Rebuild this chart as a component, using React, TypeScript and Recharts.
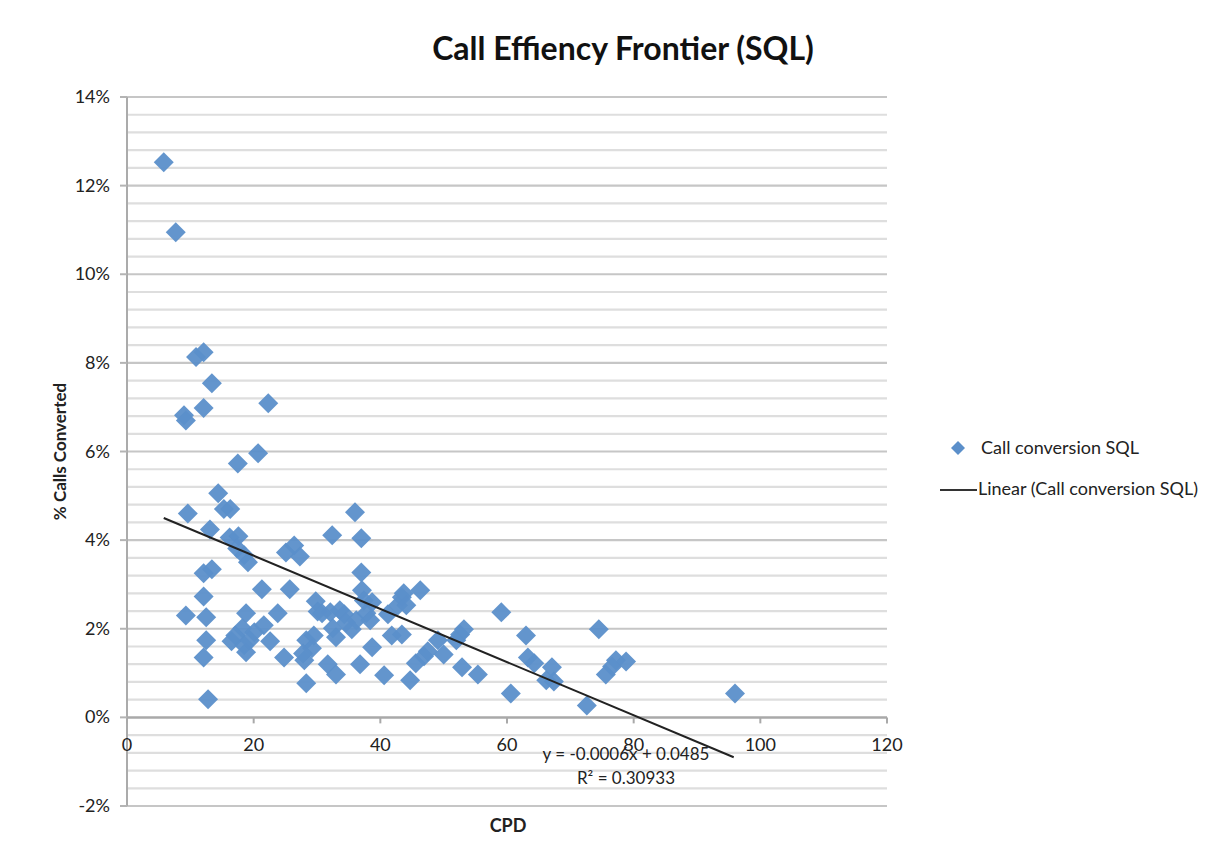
import React from 'react';
import { ScatterChart, Scatter, XAxis, YAxis, CartesianGrid } from 'recharts';

// CPD per rep (x) and % of calls converted to SQL (y, in percent)
const cpdValues = [
  5.8, 7.7, 10.9, 12.1, 13.4, 12.1, 9.0, 9.3, 22.3, 20.7, 17.5, 9.6, 14.4, 15.3, 16.3, 13.1,
  16.2, 17.6, 17.4, 18.5, 19.1, 13.4, 12.1, 12.1, 9.3, 12.5, 12.5, 12.1, 12.8, 18.8, 18.2, 17.1,
  16.5, 18.5, 18.8, 20.1, 21.3, 21.6, 22.6, 23.8, 24.8, 25.7, 25.1, 26.4, 27.3, 32.4, 36.0, 37.0,
  37.0, 29.8, 30.1, 28.3, 28.0, 28.3, 29.2, 29.5, 32.1, 32.5, 33.0, 31.7, 33.0, 33.6, 34.3, 34.6,
  35.5, 36.2, 36.8, 37.1, 37.4, 37.8, 38.4, 38.7, 38.7, 40.6, 41.2, 41.8, 42.8, 43.4, 43.7, 44.1,
  43.4, 44.7, 46.3, 45.6, 46.9, 47.5, 49.1, 50.0, 52.0, 52.6, 53.2, 52.9, 55.4, 59.1, 60.6, 63.0,
  63.3, 64.3, 66.2, 67.1, 67.4, 72.6, 74.5, 75.6, 76.6, 77.2, 78.8, 96.0, 19.4, 27.8, 30.8,
];
const conversionPct = [
  12.53, 10.95, 8.13, 8.24, 7.54, 6.98, 6.82, 6.70, 7.09, 5.96, 5.73, 4.60, 5.06, 4.70, 4.70, 4.24,
  4.06, 4.09, 3.81, 3.66, 3.50, 3.34, 3.25, 2.73, 2.30, 2.26, 1.74, 1.35, 0.41, 2.35, 2.01, 1.85,
  1.72, 1.63, 1.47, 1.92, 2.89, 2.08, 1.72, 2.35, 1.35, 2.89, 3.72, 3.88, 3.63, 4.11, 4.63, 4.04,
  3.27, 2.62, 2.39, 1.74, 1.29, 0.77, 1.56, 1.85, 2.37, 2.01, 1.81, 1.20, 0.97, 2.42, 2.33, 2.14,
  1.99, 2.19, 1.20, 2.87, 2.64, 2.35, 2.19, 1.58, 2.60, 0.95, 2.33, 1.85, 2.53, 2.71, 2.80, 2.53,
  1.87, 0.84, 2.87, 1.22, 1.38, 1.49, 1.74, 1.42, 1.74, 1.87, 1.99, 1.13, 0.97, 2.37, 0.54, 1.85,
  1.35, 1.22, 0.84, 1.13, 0.81, 0.27, 1.99, 0.97, 1.15, 1.29, 1.26, 0.54, 1.74, 1.44, 2.35,
];

// linear trendline end points (y = -0.0006x + 0.0485)
const trendX = [5.8, 95.8];
const trendPct = [4.50, -0.90];

const xTicks = [0, 20, 40, 60, 80, 100, 120];
const yMajorTicks = [-0.02, 0, 0.02, 0.04, 0.06, 0.08, 0.1, 0.12, 0.14];

const W = 1215;
const H = 860;
const LEFT = 127;
const TOP = 97;
const RIGHT = 887;
const BOTTOM = 806;
const Y_MIN = -0.02;
const Y_MAX = 0.14;
const ZERO_Y = TOP + ((Y_MAX - 0) / (Y_MAX - Y_MIN)) * (BOTTOM - TOP);

const FONT = 'Lato, "Open Sans", sans-serif';
const BLUE = '#5B8FCA';

const points = cpdValues.map((x, i) => ({ x, y: conversionPct[i] / 100 }));
const trend = trendX.map((x, i) => ({ x, y: trendPct[i] / 100 }));

// gridlines every 0.4%
const gridTicks = Array.from({ length: 41 }, (_, i) => Math.round((Y_MIN + i * 0.004) * 1000) / 1000);
const isMajor = (v: number) => yMajorTicks.some((m) => Math.abs(m - v) < 1e-6);

const Diamond = (props: any) => {
  const { cx, cy } = props;
  if (cx == null || cy == null) return null;
  const r = 10;
  return (
    <polygon
      points={`${cx},${cy - r} ${cx + r},${cy} ${cx},${cy + r} ${cx - r},${cy}`}
      fill={BLUE}
      fillOpacity={0.95}
    />
  );
};

const GridLine = (props: any) => {
  const { x1, x2, y1, index } = props;
  const v = gridTicks[index];
  const zero = v === 0;
  const major = v !== undefined && isMajor(v);
  return (
    <line
      key={`g-${index}`}
      x1={x1}
      x2={x2}
      y1={y1}
      y2={y1}
      stroke={zero ? '#a9a9a9' : major ? '#c6c6c6' : '#dedede'}
      strokeWidth={zero ? 2.5 : 2.2}
    />
  );
};

const YTick = (props: any) => {
  const { y, payload } = props;
  const v = payload.value;
  if (!isMajor(v)) return null;
  return (
    <g>
      <line x1={LEFT - 7} x2={LEFT} y1={y} y2={y} stroke="#b4b4b4" strokeWidth={2} />
      <text x={LEFT - 17} y={y} dy={6} textAnchor="end" fontFamily={FONT} fontSize={18} fill="#222">
        {Math.round(v * 100)}%
      </text>
    </g>
  );
};

const XTick = (props: any) => {
  const { x, payload } = props;
  return (
    <g>
      <line x1={x} x2={x} y1={ZERO_Y} y2={ZERO_Y + 6} stroke="#a9a9a9" strokeWidth={2} />
      <text x={x} y={ZERO_Y + 34} textAnchor="middle" fontFamily={FONT} fontSize={18} fill="#222">
        {payload.value}
      </text>
    </g>
  );
};

const LegendBox = () => (
  <div style={{ position: 'absolute', left: 930, top: 436, width: 285, fontFamily: FONT, fontSize: 18, color: '#222' }}>
    <div style={{ position: 'relative', height: 24 }}>
      <svg width={16} height={16} style={{ position: 'absolute', left: 20, top: 4 }}>
        <polygon points="8,1 15,8 8,15 1,8" fill={BLUE} />
      </svg>
      <span style={{ position: 'absolute', left: 51, top: 0, whiteSpace: 'nowrap' }}>Call conversion SQL</span>
    </div>
    <div style={{ position: 'relative', height: 24, marginTop: 17 }}>
      <div style={{ position: 'absolute', left: 10, top: 12, width: 37, height: 2, background: '#333' }} />
      <span style={{ position: 'absolute', left: 48, top: 0, whiteSpace: 'nowrap' }}>Linear (Call conversion SQL)</span>
    </div>
  </div>
);

export default function App() {
  return (
    <div style={{ position: 'relative', width: W, height: H, background: '#fff' }}>
      <style>{'body{margin:0}'}</style>
      <div
        style={{
          position: 'absolute',
          left: 0,
          top: 28,
          width: 1246,
          textAlign: 'center',
          fontFamily: FONT,
          fontWeight: 700,
          fontSize: 32,
          color: '#111',
        }}
      >
        Call Effiency Frontier (SQL)
      </div>
      <ScatterChart width={W} height={H} margin={{ top: TOP, right: W - RIGHT, bottom: 24, left: 0 }}>
        <CartesianGrid vertical={false} horizontal={GridLine} />
        <XAxis
          type="number"
          dataKey="x"
          domain={[0, 120]}
          ticks={xTicks}
          axisLine={false}
          tickLine={false}
          tick={<XTick />}
          height={H - BOTTOM - 24}
          interval={0}
        />
        <YAxis
          type="number"
          dataKey="y"
          domain={[Y_MIN, Y_MAX]}
          ticks={gridTicks}
          interval={0}
          width={LEFT}
          axisLine={{ stroke: '#ababab', strokeWidth: 2 }}
          tickLine={false}
          tick={<YTick />}
          label={{
            value: '% Calls Converted',
            angle: -90,
            position: 'insideLeft',
            offset: 60,
            style: { fontFamily: FONT, fontWeight: 700, fontSize: 17, fill: '#222', textAnchor: 'middle' },
          }}
        />
        <Scatter
          name="Call conversion SQL"
          data={points}
          shape={<Diamond />}
          isAnimationActive={false}
        />
        <Scatter
          name="Linear (Call conversion SQL)"
          data={trend}
          line={{ stroke: '#222', strokeWidth: 2 }}
          shape={() => <g />}
          isAnimationActive={false}
        />
      </ScatterChart>
      <LegendBox />
      <div
        style={{
          position: 'absolute',
          left: 0,
          width: 1016,
          top: 814,
          textAlign: 'center',
          fontFamily: FONT,
          fontWeight: 700,
          fontSize: 18,
          color: '#222',
        }}
      >
        CPD
      </div>
      <div
        style={{
          position: 'absolute',
          left: 526,
          width: 200,
          top: 742,
          textAlign: 'center',
          fontFamily: FONT,
          fontSize: 17,
          color: '#222',
          lineHeight: '24px',
        }}
      >
        y = -0.0006x + 0.0485
        <br />
        R² = 0.30933
      </div>
    </div>
  );
}
